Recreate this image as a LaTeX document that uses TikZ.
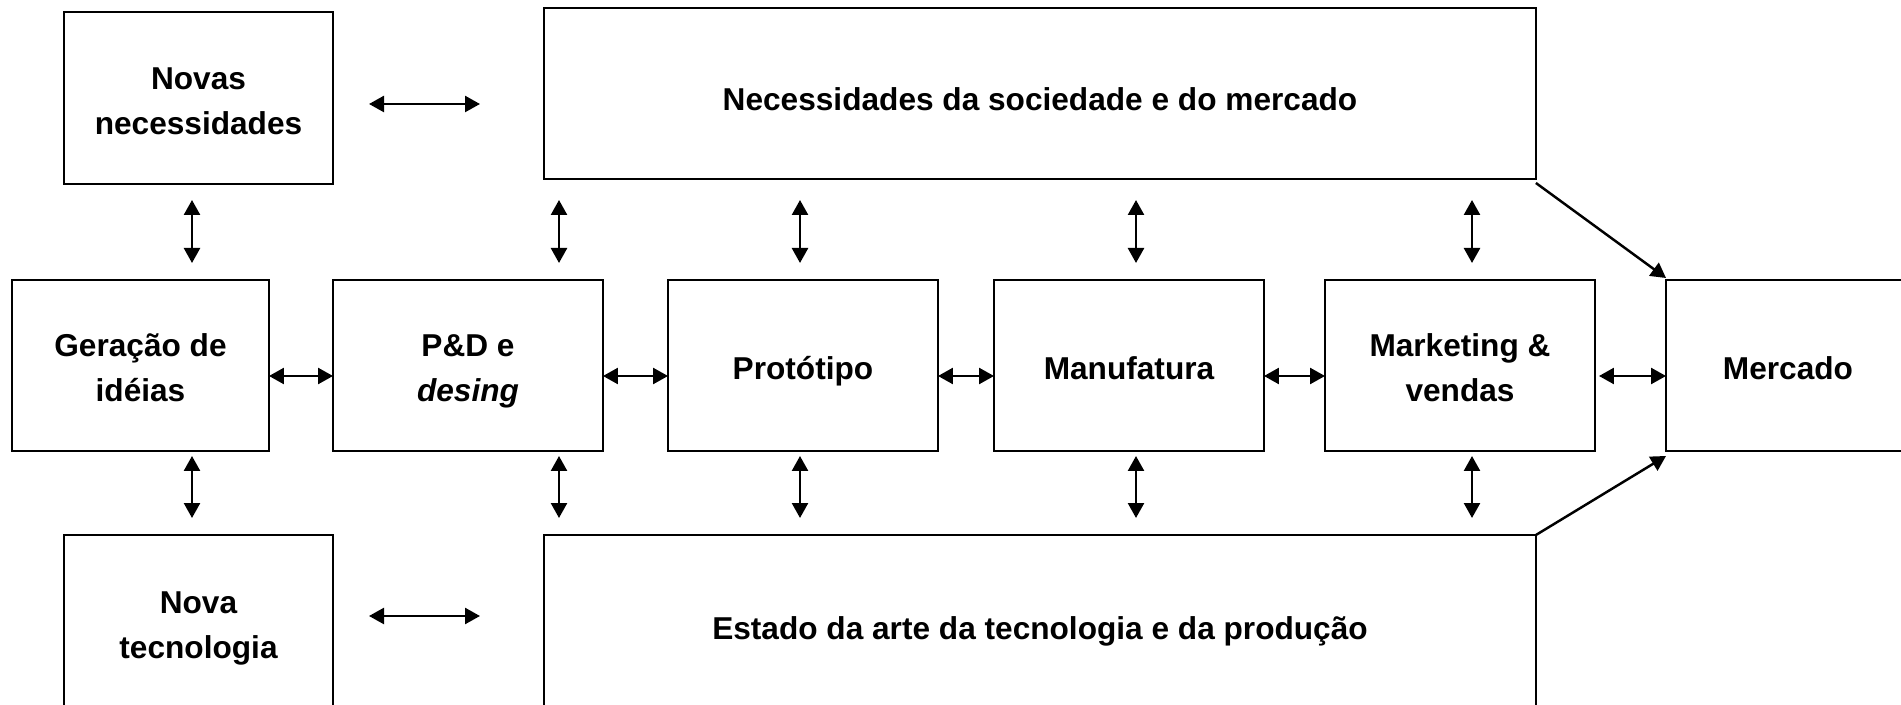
\documentclass[tikz,border=0pt]{standalone}
\usepackage{fontspec}
\setmainfont{Liberation Sans}
\usetikzlibrary{arrows.meta}
\newcommand\tstr{\rule{0pt}{20pt}}
\newcommand\tstrb{\rule{0pt}{24pt}}
\newcommand\bstr{\rule[-4.2pt]{0pt}{0pt}}
\begin{document}
\begin{tikzpicture}[x=0.02cm,y=-0.02cm,
  box/.style={draw,line width=1.1pt,inner sep=0pt,outer sep=0pt,align=center,
    font=\fontsize{18}{25.5}\selectfont\bfseries},
  dbl/.style={line width=1.4pt,{Triangle[length=0.3cm,width=0.32cm]}-{Triangle[length=0.3cm,width=0.32cm]}},
  arr/.style={line width=1.4pt,-{Triangle[length=0.3cm,width=0.32cm]}}]
\useasboundingbox[fill=white] (0,0) rectangle (1901,705);
% top row
\node[box,minimum width=5.38cm,minimum height=3.44cm] (nov) at (198.5,98) {\tstr Novas\\necessidades\bstr};
\node[box,minimum width=19.84cm,minimum height=3.42cm] (nec) at (1040,93.5) {\tstrb Necessidades da sociedade e do mercado\bstr};
% middle row
\node[box,minimum width=5.14cm,minimum height=3.42cm] (ger) at (140.5,365.5) {\tstr Geração de\\idéias\bstr};
\node[box,minimum width=5.4cm,minimum height=3.42cm] (pd) at (468,365.5) {\tstr P\&D e\\\textit{desing}\bstr};
\node[box,minimum width=5.4cm,minimum height=3.42cm] (pro) at (803,365.5) {\tstr Protótipo\bstr};
\node[box,minimum width=5.4cm,minimum height=3.42cm] (man) at (1129,365.5) {\tstr Manufatura\bstr};
\node[box,minimum width=5.4cm,minimum height=3.42cm] (mkt) at (1460,365.5) {\tstr Marketing \&\\vendas\bstr};
\node[box,minimum width=4.88cm,minimum height=3.42cm] (mer) at (1788,365.5) {\tstr Mercado\bstr};
% bottom row
\node[box,minimum width=5.38cm,minimum height=3.48cm] (nt) at (198.5,622) {\tstr Nova\\tecnologia\bstr};
\node[box,minimum width=19.84cm,minimum height=3.48cm] (est) at (1040,622) {\tstrb Estado da arte da tecnologia e da produção\bstr};
% coordinates
\coordinate (row) at (0,376);
\coordinate (ta1) at (369,104); \coordinate (ta2) at (480,104);
\coordinate (ba1) at (369,616); \coordinate (ba2) at (480,616);
\draw[dbl] (ta1) -- (ta2);
\draw[dbl] (ba1) -- (ba2);
\foreach \x/\n in {192/a,559/b,800/c,1136/d,1472/e}{
  \coordinate (u1\n) at (\x,200); \coordinate (u2\n) at (\x,263);
  \coordinate (l1\n) at (\x,456); \coordinate (l2\n) at (\x,518);
  \draw[dbl] (u1\n) -- (u2\n);
  \draw[dbl] (l1\n) -- (l2\n);
}
\draw[dbl] (ger.east |- row) -- (pd.west |- row);
\draw[dbl] (pd.east |- row) -- (pro.west |- row);
\draw[dbl] (pro.east |- row) -- (man.west |- row);
\draw[dbl] (man.east |- row) -- (mkt.west |- row);
\draw[dbl] ([xshift=0.08cm]mkt.east |- row) -- (mer.west |- row);
\draw[arr] ([yshift=-0.08cm]nec.south east) -- ([yshift=0.04cm]mer.north west);
\draw[arr] (est.north east) -- ([yshift=-0.1cm]mer.south west);
\end{tikzpicture}
\end{document}
